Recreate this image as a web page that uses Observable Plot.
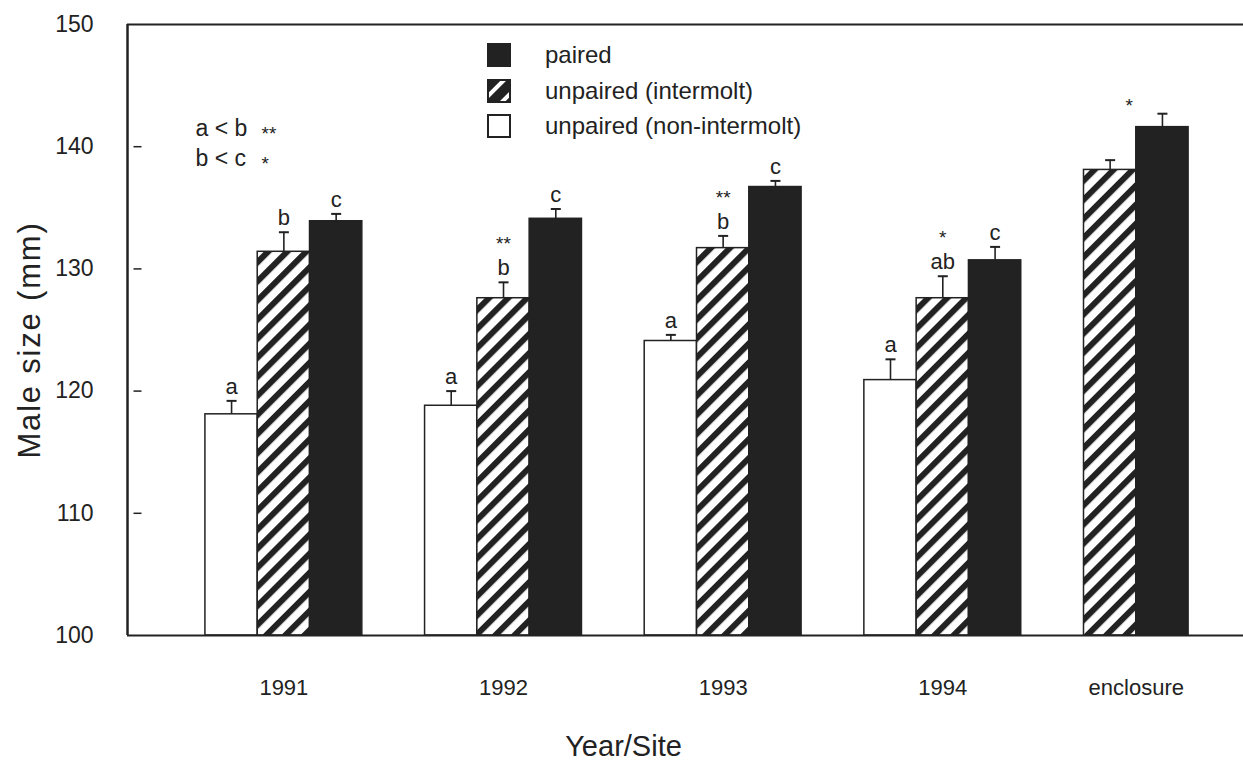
<!DOCTYPE html>
<html><head><meta charset="utf-8">
<script src="https://cdn.jsdelivr.net/npm/d3@7"></script>
<script src="https://cdn.jsdelivr.net/npm/@observablehq/plot@0.6"></script>
<style>
body{margin:0;background:#fff}
svg{font-family:"Liberation Sans",Arial,Helvetica,sans-serif}
</style>
</head><body><div id="chart"></div>
<script>
// ---- data ----
const groups = ["1991", "1992", "1993", "1994", "enclosure"];
const seriesNames = ["unpaired (non-intermolt)", "unpaired (intermolt)", "paired"];
const nonIntermolt    = [118.1, 118.8, 124.1, 120.9, null];
const nonIntermoltErr = [1.1, 1.2, 0.5, 1.7, null];
const intermolt       = [131.4, 127.6, 131.7, 127.6, 138.1];
const intermoltErr    = [1.6, 1.3, 1.0, 1.8, 0.8];
const paired          = [133.9, 134.1, 136.7, 130.7, 141.6];
const pairedErr       = [0.6, 0.8, 0.5, 1.1, 1.1];
const nonIntermoltLetters = ["a", "a", "a", "a", ""];
const intermoltLetters    = ["b", "b", "b", "ab", ""];
const pairedLetters       = ["c", "c", "c", "c", ""];
const intermoltStars = ["", "**", "**", "*", ""];
const groupStars     = ["", "", "", "", "*"];
const comparisons    = ["a < b", "b < c"];
const comparisonStars = ["**", "*"];
const yDomain = [100, 150];
const yTicks = [100, 110, 120, 130, 140, 150];
const xTitle = "Year/Site";
const yTitle = "Male size (mm)";
const legendOrder = ["paired", "unpaired (intermolt)", "unpaired (non-intermolt)"];

// ---- build table ----
const seriesVals = [nonIntermolt, intermolt, paired];
const seriesErrs = [nonIntermoltErr, intermoltErr, pairedErr];
const seriesLetters = [nonIntermoltLetters, intermoltLetters, pairedLetters];
const GAP = 1.2;
const rows = [];
const groupRows = [];
let slot = 0;
groups.forEach((g, gi) => {
  const start = slot;
  let top = -Infinity;
  seriesNames.forEach((s, si) => {
    const v = seriesVals[si][gi];
    if (v == null) return;
    const e = seriesErrs[si][gi];
    rows.push({group: g, series: s, value: v, err: e, top: v + e,
      letter: seriesLetters[si][gi],
      stars: si === 1 ? intermoltStars[gi] : "",
      x1: slot, x2: slot + 1, center: slot + 0.5});
    top = Math.max(top, v + e);
    slot += 1;
  });
  groupRows.push({group: g, center: (start + slot) / 2, top, stars: groupStars[gi]});
  slot += GAP;
});
const lastSlot = slot - GAP;
const xDomain = [-1.49, lastSlot + 1.05];

const fills = {"unpaired (non-intermolt)": "white", "unpaired (intermolt)": "url(#hatch)", "paired": "#222"};

const hline = {draw(ctx, size) { const w = Math.sqrt(size / Math.PI); ctx.moveTo(-w, 0); ctx.lineTo(w, 0); }};

const ink = "#222";
const chart = Plot.plot({
  width: 1243, height: 762,
  marginLeft: 127, marginRight: 0, marginTop: 24, marginBottom: 127,
  x: {domain: xDomain, axis: null},
  y: {domain: yDomain, axis: null},
  color: {domain: seriesNames, range: seriesNames.map(s => fills[s])},
  style: {color: ink, background: "white"},
  marks: [
    Plot.rectY(rows, {x1: "x1", x2: "x2", y1: () => yDomain[0], y2: "value", fill: "series", stroke: ink, strokeWidth: 1.5}),
    Plot.ruleX(rows, {x: "center", y1: "value", y2: "top", stroke: ink, strokeWidth: 1.6}),
    Plot.dot(rows, {x: "center", y: "top", r: 5, symbol: hline, fill: "none", stroke: ink, strokeWidth: 2}),
    Plot.text(rows, {x: "center", y: "top", text: "letter", dy: -14, fontSize: 22, fill: ink}),
    Plot.text(rows, {x: "center", y: "top", text: "stars", dy: -38, fontSize: 19, fill: ink}),
    Plot.text(groupRows, {x: "center", y: "top", text: "stars", dx: -7, dy: -8, fontSize: 19, fill: ink}),
    // frame: left, bottom, top
    Plot.ruleY(yDomain, {stroke: ink, strokeWidth: 2}),
    Plot.ruleX([xDomain[0]], {stroke: ink, strokeWidth: 2.5}),
    // inward ticks
    Plot.dot(yTicks.slice(1, -1), {y: d => d, frameAnchor: "left", dx: 10, r: 4, symbol: hline, fill: "none", stroke: ink, strokeWidth: 1.5}),
    // y tick labels
    Plot.text(yTicks, {y: d => d, text: d => String(d), frameAnchor: "left", dx: -34, textAnchor: "end", fontSize: 23, fill: ink}),
    // x group labels
    Plot.text(groupRows, {x: "center", text: "group", frameAnchor: "bottom", dy: 59, fontSize: 22, fill: ink}),
    // axis titles
    Plot.text([xTitle], {text: d => d, frameAnchor: "bottom-left", textAnchor: "middle", lineAnchor: "middle", dx: 496, dy: 111, fontSize: 29, fill: ink}),
    Plot.text([yTitle], {text: d => d, frameAnchor: "left", textAnchor: "middle", dx: -97, dy: 10, rotate: -90, fontSize: 31, fill: ink}),
    // comparisons annotation
    ...comparisons.map((c, i) => Plot.text([c], {text: d => d, frameAnchor: "top-left", dx: 68, dy: 104 + i * 30, textAnchor: "start", lineAnchor: "middle", fontSize: 23, fill: ink})),
    ...comparisonStars.map((c, i) => Plot.text([c], {text: d => d, frameAnchor: "top-left", dx: 134, dy: 109 + i * 30, textAnchor: "start", lineAnchor: "middle", fontSize: 19, fill: ink}))
  ]
});

const svg = d3.select(chart);
svg.insert("defs", ":first-child").html(
  `<pattern id="hatch" patternUnits="userSpaceOnUse" width="13.5" height="13.5" patternTransform="rotate(45)">
     <rect width="13.5" height="13.5" fill="white"/>
     <rect x="0" y="0" width="6" height="13.5" fill="${ink}"/>
   </pattern>
   <pattern id="hatchL" patternUnits="userSpaceOnUse" width="14" height="14" patternTransform="rotate(45)">
     <rect width="14" height="14" fill="${ink}"/>
     <rect x="5" y="0" width="4" height="14" fill="white"/>
   </pattern>`);

// slight letter spacing on the y title to match the scanned type
svg.selectAll("text").filter(function() { return this.textContent === yTitle; }).attr("letter-spacing", 1.8);

// legend
const legendFill = {"paired": ink, "unpaired (intermolt)": "url(#hatchL)", "unpaired (non-intermolt)": "white"};
const legendRowsY = [55, 91, 126];
const lg = svg.append("g").attr("text-anchor", "start");
legendOrder.forEach((s, i) => {
  const cy = legendRowsY[i];
  lg.append("rect").attr("x", 488).attr("y", cy - 11).attr("width", 22).attr("height", 22)
    .attr("fill", legendFill[s]).attr("stroke", ink).attr("stroke-width", 2);
  lg.append("text").attr("x", 545).attr("y", cy).attr("dy", "0.35em")
    .attr("text-anchor", "start").attr("font-size", 24).attr("fill", ink).text(s);
});

document.getElementById("chart").appendChild(chart);
</script>
</body></html>
